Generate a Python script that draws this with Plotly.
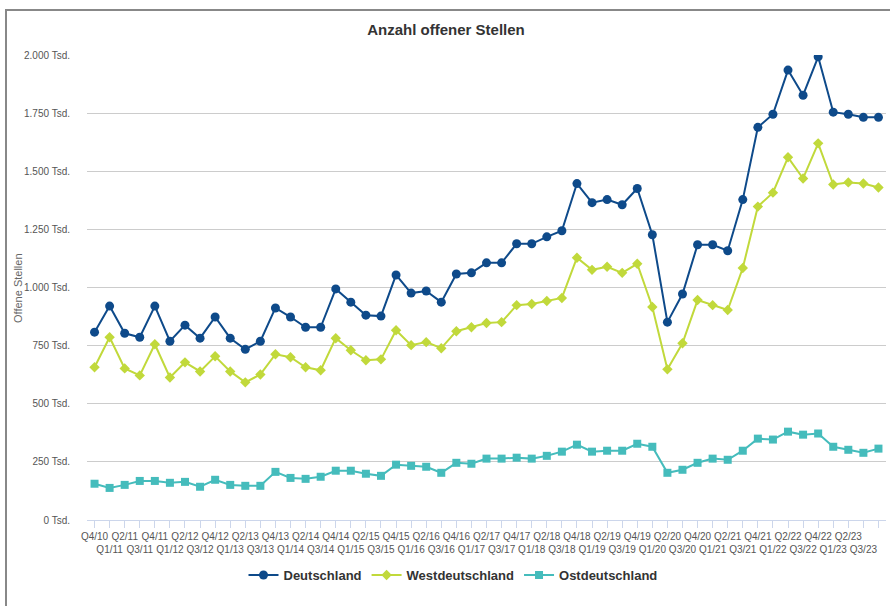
import plotly.graph_objects as go

quarters = [f"Q{q}/{y:02d}" for y, q in [(10, 4)] + [(yy, qq) for yy in range(11, 24) for qq in range(1, 5)]]

deutschland = [808, 920, 803, 786, 920, 769, 838, 782, 873, 782, 734, 769, 912, 873, 829, 829,
               994, 937, 881, 877, 1054, 976, 985, 937, 1058, 1063, 1106, 1106, 1188, 1188, 1218, 1244,
               1447, 1365, 1378, 1356, 1426, 1227, 851, 972, 1184, 1184, 1158, 1378, 1689, 1745, 1935, 1827,
               1992, 1754, 1745, 1732, 1732]
westdeutschland = [657, 786, 652, 622, 756, 613, 678, 639, 704, 639, 592, 626, 713, 700, 657, 644,
                   782, 730, 687, 691, 816, 752, 765, 739, 812, 829, 847, 851, 924, 929, 942, 955,
                   1128, 1076, 1089, 1063, 1102, 916, 648, 760, 946, 924, 903, 1084, 1348, 1408, 1560, 1469,
                   1620, 1443, 1452, 1447, 1430]
ostdeutschland = [156, 138, 151, 168, 168, 160, 164, 143, 173, 151, 147, 147, 207, 181, 177, 186,
                  212, 212, 199, 190, 238, 233, 229, 203, 246, 242, 264, 264, 268, 264, 276, 294,
                  324, 294, 298, 298, 328, 315, 203, 216, 246, 264, 259, 298, 350, 346, 380, 367,
                  372, 315, 302, 289, 307]

y_tickvals = [0, 250, 500, 750, 1000, 1250, 1500, 1750, 2000]
y_ticktext = ["0 Tsd.", "250 Tsd.", "500 Tsd.", "750 Tsd.", "1.000 Tsd.", "1.250 Tsd.",
              "1.500 Tsd.", "1.750 Tsd.", "2.000 Tsd."]

x_ticktext = [q if i % 2 == 0 else "<br>" + q for i, q in enumerate(quarters)]
xs = list(range(len(quarters)))

FONT = "Liberation Sans, Arial, sans-serif"

fig = go.Figure()
fig.add_trace(go.Scatter(x=xs, y=deutschland, name="Deutschland", mode="lines+markers",
                         line=dict(color="#0e4a8a", width=2),
                         marker=dict(symbol="circle", size=9, color="#0e4a8a")))
fig.add_trace(go.Scatter(x=xs, y=westdeutschland, name="Westdeutschland", mode="lines+markers",
                         line=dict(color="#c1d93b", width=2),
                         marker=dict(symbol="diamond", size=8, color="#c1d93b")))
fig.add_trace(go.Scatter(x=xs, y=ostdeutschland, name="Ostdeutschland", mode="lines+markers",
                         line=dict(color="#45bcbc", width=2),
                         marker=dict(symbol="square", size=8, color="#45bcbc")))

L, R, T, B = 87, 4, 55, 86
W, H = 890, 606
pw, ph = W - L - R, H - T - B

def px_x(p):
    return (p - L) / pw

def px_y(p):
    return (H - B - p) / ph

fig.update_layout(
    width=W, height=H,
    margin=dict(l=L, r=R, t=T, b=B, autoexpand=False),
    paper_bgcolor="white", plot_bgcolor="white",
    font=dict(family=FONT, color="#555555", size=10),
    title=dict(text="<b>Anzahl offener Stellen</b>", x=446 / W, xref="container", xanchor="center",
               y=1 - 30 / H, yanchor="middle",
               font=dict(size=15, color="#333333", family=FONT)),
    showlegend=True,
    legend=dict(orientation="h", x=px_x(453), xanchor="center", y=px_y(575), yanchor="middle",
                font=dict(size=13, color="#333333", family=FONT, weight="bold"),
                itemsizing="trace", itemwidth=30, tracegroupgap=0),
    xaxis=dict(
        tickmode="array", tickvals=xs, ticktext=x_ticktext, tickangle=0,
        range=[-0.5, len(xs) - 0.5], showgrid=False, zeroline=False,
        showline=True, linecolor="#ccd6eb", linewidth=1,
        ticks="outside", ticklen=7, tickcolor="#ccd6eb", tickson="boundaries",
        tickfont=dict(size=10, color="#555555"),
    ),
    yaxis=dict(
        tickmode="array", tickvals=y_tickvals, ticktext=y_ticktext,
        range=[0, 2000], showgrid=True, gridcolor="#cccccc", gridwidth=1,
        zeroline=False, showline=False,
        ticks="outside", ticklen=14, tickcolor="rgba(0,0,0,0)",
        tickfont=dict(size=10, color="#555555"),
    ),
    annotations=[dict(text="Offene Stellen", textangle=-90, xref="paper", yref="paper",
                      x=px_x(18), y=px_y(288), xanchor="center", yanchor="middle", showarrow=False,
                      font=dict(size=11, color="#666666", family=FONT))],
    shapes=[
        dict(type="line", xref="paper", yref="paper", x0=px_x(6), x1=px_x(6), y0=px_y(10), y1=px_y(620),
             line=dict(color="#888888", width=2)),
        dict(type="line", xref="paper", yref="paper", x0=px_x(5), x1=px_x(900), y0=px_y(10), y1=px_y(10),
             line=dict(color="#888888", width=2)),
    ],
)

fig.write_html("out.html")
